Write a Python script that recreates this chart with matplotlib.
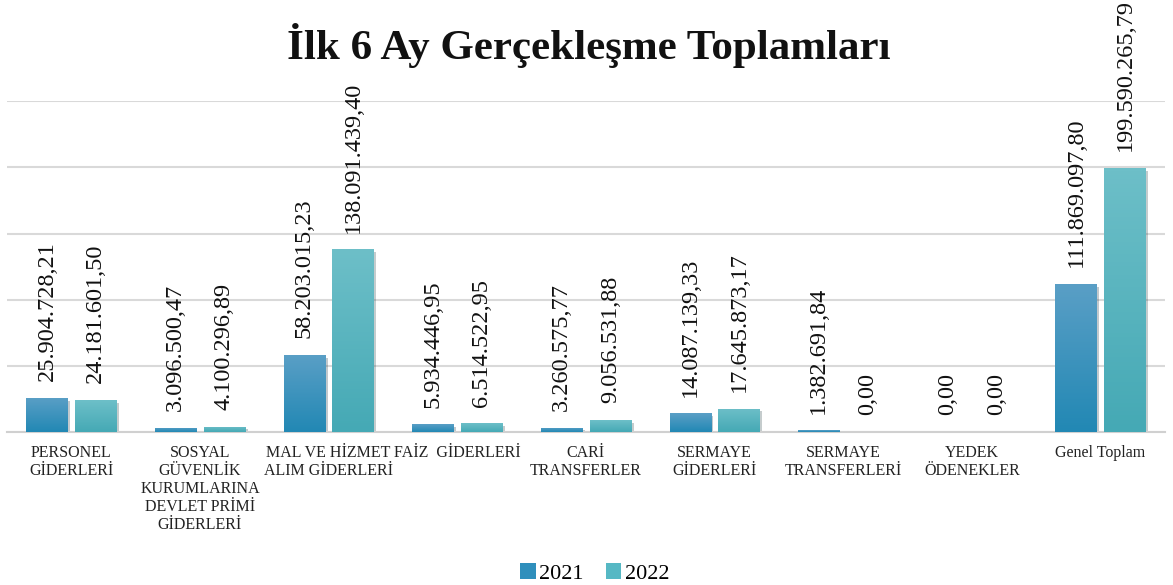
"""Ilk 6 ay gerceklesme toplamlari - grouped bar chart with gradient bars."""

import matplotlib
matplotlib.use("Agg")
import matplotlib.pyplot as plt
import matplotlib.patheffects as pe
from matplotlib.colors import LinearSegmentedColormap
from matplotlib.patches import Patch
import numpy as np

plt.rcParams["font.family"] = ["Liberation Serif", "DejaVu Serif"]

# ---------------------------------------------------------------------------
# Data
# ---------------------------------------------------------------------------

categories = [
    "PERSONEL\nGİDERLERİ",
    "SOSYAL\nGÜVENLİK\nKURUMLARINA\nDEVLET PRİMİ\nGİDERLERİ",
    "MAL VE HİZMET\nALIM GİDERLERİ",
    "FAİZ  GİDERLERİ",
    "CARİ\nTRANSFERLER",
    "SERMAYE\nGİDERLERİ",
    "SERMAYE\nTRANSFERLERİ",
    "YEDEK\nÖDENEKLER",
    "Genel Toplam",
]

values_2021 = [25904728.21, 3096500.47, 58203015.23, 5934446.95, 3260575.77,
               14087139.33, 1382691.84, 0.00, 111869097.80]
values_2022 = [24181601.50, 4100296.89, 138091439.40, 6514522.95, 9056531.88,
               17645873.17, 0.00, 0.00, 199590265.79]

series_labels = ["2021", "2022"]

# gradient colours (top, bottom) per series
GRADIENTS = [("#5a9fc6", "#2288b4"), ("#6dbfc8", "#45a9b5")]
SOLIDS = ["#2f8fbc", "#56b8c4"]


def fmt_tr(v):
    s = f"{v:,.2f}"
    return s.replace(",", "X").replace(".", ",").replace("X", ".")


fig = plt.figure(figsize=(11.73, 5.85), dpi=100)
ax = fig.add_axes([0.006, 0.2615, 0.987, 0.5655])

x = np.arange(len(categories))
width = 0.32
offset = 0.19
ymax = 250e6

ax.set_ylim(0, ymax)
ax.set_xlim(-0.5, len(categories) - 0.5)

for i, (vals, (top, bot)) in enumerate(zip([values_2021, values_2022], GRADIENTS)):
    pos = x + (offset if i else -offset)
    bars = ax.bar(pos, vals, width, color=SOLIDS[i], zorder=2,
                  path_effects=[pe.SimplePatchShadow(offset=(2, -2), alpha=0.25), pe.Normal()])
    cmap = LinearSegmentedColormap.from_list(f"g{i}", [bot, top])
    grad = np.linspace(0, 1, 64).reshape(-1, 1)
    for b, v in zip(bars, vals):
        if v > 0:
            im = ax.imshow(grad, cmap=cmap, origin="lower", aspect="auto",
                           extent=(b.get_x(), b.get_x() + b.get_width(), 0, b.get_height()),
                           zorder=3)
            im.set_clip_path(b)
        ax.annotate(fmt_tr(v), xy=(b.get_x() + b.get_width() / 2, v),
                    xytext=(0, 12), textcoords="offset points", rotation=90,
                    ha="center", va="bottom", fontsize=17.5, color="#111111",
                    annotation_clip=False, zorder=4)

ax.set_xlim(-0.5, len(categories) - 0.5)
ax.set_ylim(0, ymax)

ax.set_yticks(np.arange(0, ymax + 1, 50e6))
ax.yaxis.grid(True, color="#d9d9d9", linewidth=1.5, zorder=0)
ax.set_axisbelow(True)
ax.tick_params(axis="y", left=False, labelleft=False)
ax.tick_params(axis="x", length=0, pad=9)
ax.set_xticks(x)
ax.set_xticklabels(categories, fontsize=11.5, color="#222222", linespacing=1.17, va="top")
for s in ["top", "left", "right"]:
    ax.spines[s].set_visible(False)
ax.spines["bottom"].set_color("#d0d0d0")
ax.spines["bottom"].set_linewidth(1.5)

fig.text(0.502, 0.923, "İlk 6 Ay Gerçekleşme Toplamları", ha="center", va="center",
         fontsize=31, fontweight="bold", color="#111111")

handles = [Patch(facecolor=c, edgecolor="none") for c in SOLIDS]
fig.legend(handles, series_labels, loc="center", bbox_to_anchor=(0.507, 0.02),
           ncol=2, frameon=False, fontsize=16, handlelength=0.7, handleheight=0.7,
           handletextpad=0.15, columnspacing=1.0)

fig.savefig("out.png", dpi=100)
